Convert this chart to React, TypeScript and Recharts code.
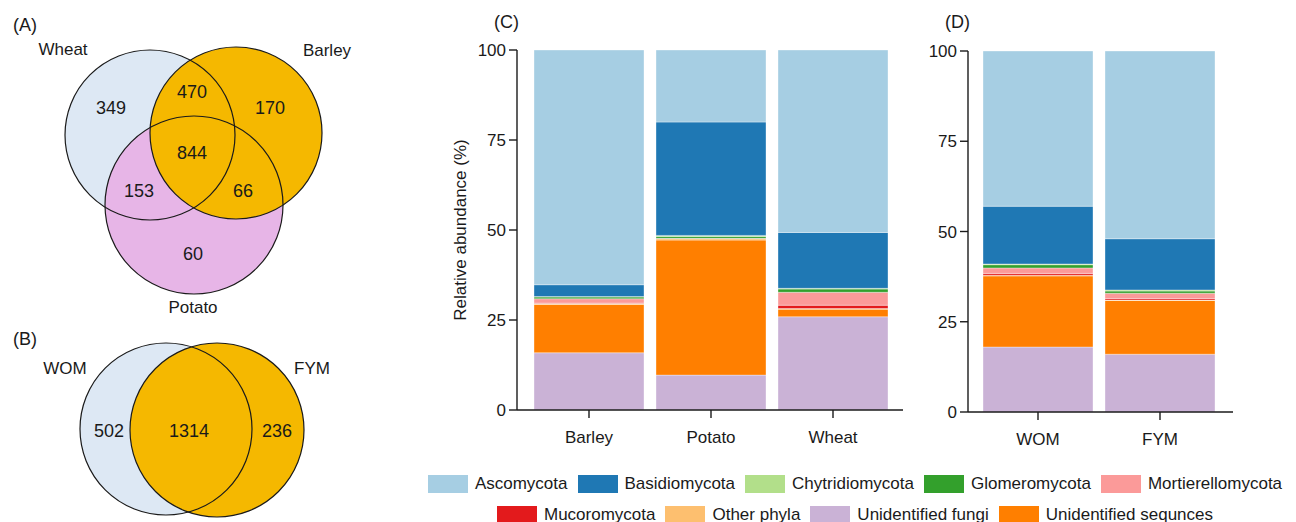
import React from "react";
import { BarChart, Bar, XAxis, YAxis, ScatterChart, Scatter } from "recharts";

const FONT = '"Liberation Sans", Arial, sans-serif';
const INK = "#1a1a1a";

// phyla in legend order
const phyla = [
    "Ascomycota",
    "Basidiomycota",
    "Chytridiomycota",
    "Glomeromycota",
    "Mortierellomycota",
    "Mucoromycota",
    "Other phyla",
    "Unidentified fungi",
    "Unidentified sequnces",
];
const phylumColors = ["#a6cee3", "#1f78b4", "#b2df8a", "#33a02c", "#fb9a99", "#e31a1c", "#fdbf6f", "#cab2d6", "#ff7f00"];
// bottom -> top stacking (indexes into phyla)
const stackOrder = [7, 8, 6, 5, 4, 3, 2, 1, 0];

// relative abundance (%) per sample, same order as phyla
const crops = ["Barley", "Potato", "Wheat"];
const barley = [65.2, 3.3, 0.1, 0.5, 1.2, 0.1, 0.3, 15.9, 13.4];
const potato = [20.0, 31.5, 0.3, 0.5, 0.1, 0.0, 0.4, 9.7, 37.5];
const wheat = [50.7, 15.5, 0.2, 0.9, 3.6, 0.9, 0.2, 25.9, 2.1];

const manures = ["WOM", "FYM"];
const wom = [43.0, 16.0, 0.2, 0.9, 1.5, 0.5, 0.2, 18.0, 19.7];
const fym = [52.0, 14.2, 0.3, 0.6, 1.5, 0.4, 0.1, 16.0, 14.9];

const yTicks = [0, 25, 50, 75, 100];

// venn counts
const vennASets = ["Wheat", "Barley", "Potato"];
const vennACounts = [349, 470, 170, 844, 153, 66, 60];
const vennBSets = ["WOM", "FYM"];
const vennBCounts = [502, 1314, 236];

// venn layout (px units of the venn panel), kept apart from the counts
const vennACircles = [
    { x: 150, y: 135, r: 85, fill: "#dde8f4" },
    { x: 194, y: 205, r: 89, fill: "#e7b5e7" },
    { x: 236, y: 133, r: 86, fill: "#f5b800" },
];
const vennASetPos = [[63, 49], [327, 50], [193, 307]];
const vennACountPos = [[111, 108], [192, 92], [270, 108], [192, 153], [139, 191], [243, 191], [193, 254]];
const vennBCircles = [
    { x: 166, y: 429, r: 86, fill: "#dde8f4" },
    { x: 217, y: 430, r: 87, fill: "#f5b800" },
];
const vennBSetPos = [[65, 368], [312, 368]];
const vennBCountPos = [[109, 431], [189, 431], [277, 431]];

const toRows = (names: string[], rows: number[][]) =>
    names.map((name, i) => {
        const row: Record<string, any> = { name };
        phyla.forEach((p, j) => (row[p] = rows[i][j]));
        return row;
    });

const cropData = toRows(crops, [barley, potato, wheat]);
const manureData = toRows(manures, [wom, fym]);

const vennText = (labels: (string | number)[], pos: number[][], size: number) =>
    labels.map((t, i) => ({ x: pos[i][0], y: pos[i][1], text: String(t), size }));

const vennCircles = [...vennACircles, ...vennBCircles];
const vennLabels = [
    ...vennText(vennASets, vennASetPos, 17),
    ...vennText(vennACounts, vennACountPos, 18),
    ...vennText(vennBSets, vennBSetPos, 17),
    ...vennText(vennBCounts, vennBCountPos, 18),
    { x: 25, y: 25, text: "(A)", size: 18 },
    { x: 25, y: 339, text: "(B)", size: 18 },
];

const CircleFill = (p: any) => <circle cx={p.cx} cy={p.cy} r={p.payload.r} fill={p.payload.fill} />;
const CircleEdge = (p: any) => (
    <circle cx={p.cx} cy={p.cy} r={p.payload.r} fill="none" stroke={INK} strokeWidth={1.2} />
);
const TextMark = (p: any) => (
    <text x={p.cx} y={p.cy} textAnchor="middle" dominantBaseline="central" fontSize={p.payload.size} fill={INK} fontFamily={FONT}>
        {p.payload.text}
    </text>
);

function VennPanel() {
    return (
        <ScatterChart width={380} height={522} margin={{ top: 0, right: 0, bottom: 0, left: 0 }}>
            <XAxis type="number" dataKey="x" domain={[0, 380]} hide />
            <YAxis type="number" dataKey="y" domain={[0, 522]} reversed hide />
            <Scatter data={vennCircles} shape={CircleFill} isAnimationActive={false} />
            <Scatter data={vennCircles} shape={CircleEdge} isAnimationActive={false} />
            <Scatter data={vennLabels} shape={TextMark} isAnimationActive={false} />
        </ScatterChart>
    );
}

const tickStyle = { fontSize: 17, fill: INK, fontFamily: FONT };

function StackedPanel({
    data,
    width,
    yWidth,
    padding,
    marginTop,
    xHeight,
    marginRight,
    yLabel,
}: {
    data: any[];
    width: number;
    yWidth: number;
    padding: { left: number; right: number };
    marginTop: number;
    xHeight: number;
    marginRight: number;
    yLabel?: string;
}) {
    return (
        <BarChart
            width={width}
            height={460}
            data={data}
            barSize={110}
            barCategoryGap={0}
            margin={{ top: marginTop, right: marginRight, bottom: 0, left: 0 }}
        >
            <XAxis
                dataKey="name"
                padding={padding}
                height={xHeight}
                tick={tickStyle}
                tickSize={8}
                tickMargin={13}
                axisLine={{ stroke: INK, strokeWidth: 1.4 }}
                tickLine={{ stroke: INK, strokeWidth: 1.4 }}
            />
            <YAxis
                domain={[0, 100]}
                ticks={yTicks}
                width={yWidth}
                tick={tickStyle}
                tickSize={8}
                tickMargin={3}
                axisLine={{ stroke: INK, strokeWidth: 1.4 }}
                tickLine={{ stroke: INK, strokeWidth: 1.4 }}
                label={
                    yLabel
                        ? {
                              value: yLabel,
                              angle: -90,
                              position: "insideLeft",
                              offset: 40,
                              style: { textAnchor: "middle", fontSize: 17, fill: INK, fontFamily: FONT },
                          }
                        : undefined
                }
            />
            {stackOrder.map((k) => (
                <Bar
                    key={phyla[k]}
                    dataKey={phyla[k]}
                    stackId="a"
                    fill={phylumColors[k]}
                    stroke="#ffffff"
                    strokeOpacity={0.35}
                    strokeWidth={1}
                    isAnimationActive={false}
                />
            ))}
        </BarChart>
    );
}

export default function App() {
    return (
        <div
            style={{
                position: "absolute",
                left: 0,
                top: 0,
                width: 1296,
                height: 522,
                background: "#fff",
                overflow: "hidden",
                fontFamily: FONT,
                color: INK,
            }}
        >
            <div style={{ position: "absolute", left: 0, top: 0 }}>
                <VennPanel />
            </div>

            <div style={{ position: "absolute", left: 420, top: 0 }}>
                <StackedPanel
                    data={cropData}
                    width={920 - 420}
                    yWidth={97}
                    padding={{ left: 11, right: 9 }}
                    marginTop={50}
                    xHeight={50}
                    marginRight={17}
                    yLabel="Relative abundance (%)"
                />
            </div>

            <div style={{ position: "absolute", left: 908, top: 0 }}>
                <StackedPanel
                    data={manureData}
                    width={1246 - 908}
                    yWidth={60}
                    padding={{ left: 9, right: 12 }}
                    marginTop={51}
                    xHeight={48}
                    marginRight={13}
                />
            </div>

            <div style={{ position: "absolute", left: 494, top: 12, fontSize: 18 }}>(C)</div>
            <div style={{ position: "absolute", left: 945, top: 12, fontSize: 18 }}>(D)</div>

            {/* legend */}
            <div
                style={{
                    position: "absolute",
                    left: 420,
                    top: 468,
                    width: 880,
                    display: "flex",
                    flexWrap: "wrap",
                    justifyContent: "center",
                    fontSize: 17,
                    lineHeight: "31px",
                }}
            >
                {phyla.map((p, i) => (
                    <div key={p} style={{ display: "flex", alignItems: "center", height: 31, marginRight: 10 }}>
                        <span style={{ width: 40, height: 18, background: phylumColors[i], marginRight: 7, display: "inline-block" }} />
                        <span>{p}</span>
                    </div>
                ))}
            </div>
        </div>
    );
}
